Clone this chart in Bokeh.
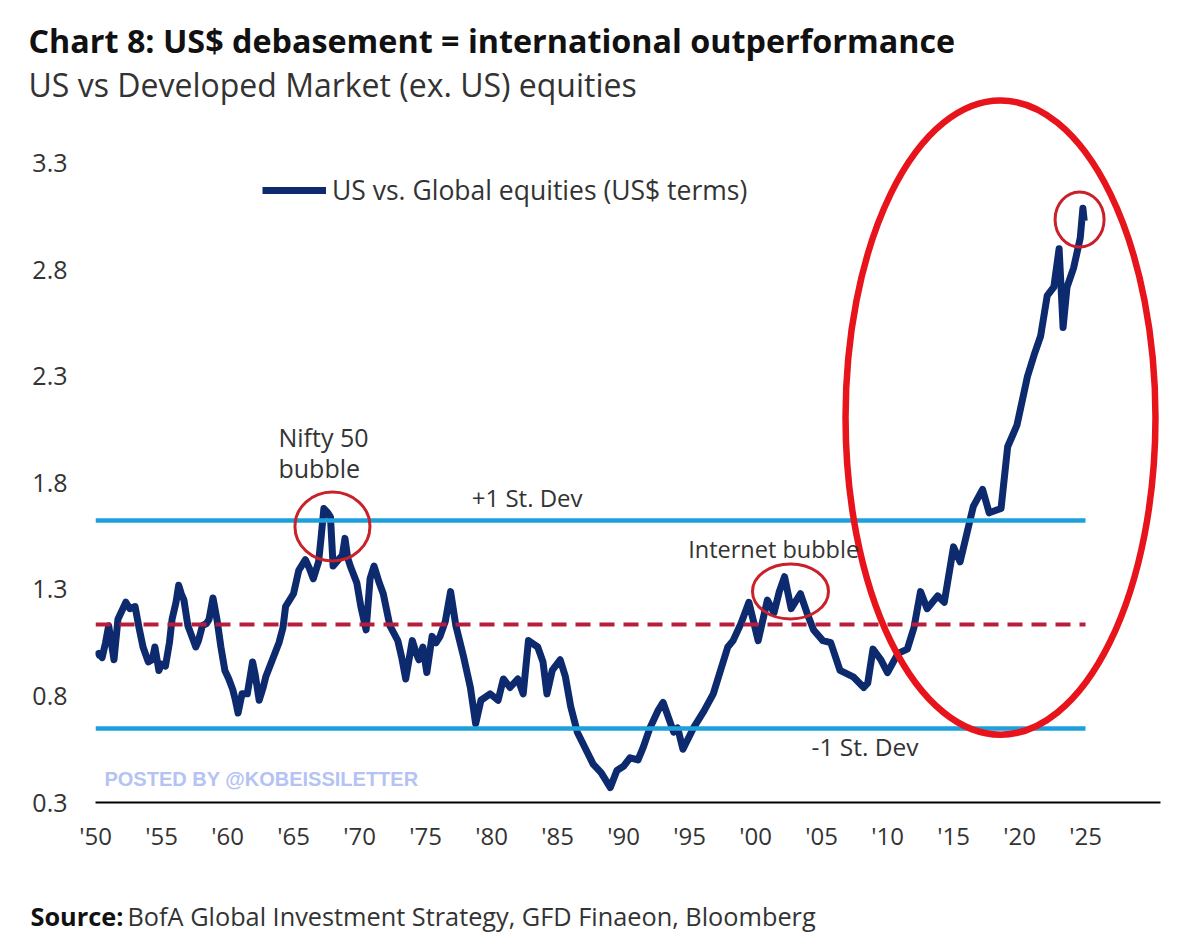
from bokeh.plotting import figure
from bokeh.models import Range1d, FixedTicker, Label, Legend, LegendItem, Title
from bokeh.embed import file_html
from bokeh.resources import INLINE

# ---------------- data ----------------
years = [
    1950.0, 1950.25, 1950.5, 1950.76, 1951.0, 1951.2, 1951.4, 1951.7, 1952.0, 1952.3,
    1952.6, 1953.0, 1953.3, 1953.6, 1954.0, 1954.3, 1954.5, 1954.8, 1955.0, 1955.3,
    1955.6, 1955.8, 1956.1, 1956.3, 1956.5, 1956.7, 1957.0, 1957.3, 1957.6, 1957.8,
    1958.1, 1958.4, 1958.6, 1958.9, 1959.2, 1959.5, 1959.8, 1960.1, 1960.4, 1960.6,
    1960.8, 1961.1, 1961.5, 1961.9, 1962.1, 1962.4, 1962.7, 1962.9, 1963.4, 1963.9,
    1964.2, 1964.4, 1965.0, 1965.4, 1965.9, 1966.2, 1966.5, 1966.9, 1967.1, 1967.3,
    1967.6, 1967.8, 1968.0, 1968.4, 1968.7, 1968.9, 1969.1, 1969.3, 1969.8, 1970.1,
    1970.5, 1970.8, 1971.1, 1971.5, 1971.8, 1972.3, 1972.9, 1973.2, 1973.5, 1974.0,
    1974.3, 1974.5, 1974.8, 1975.1, 1975.5, 1975.8, 1976.1, 1976.5, 1976.9, 1977.3,
    1977.9, 1978.4, 1978.8, 1979.2, 1979.9, 1980.5, 1980.9, 1981.4, 1982.0, 1982.4,
    1982.8, 1983.5, 1983.9, 1984.2, 1984.6, 1985.2, 1985.6, 1986.0, 1986.5, 1987.3,
    1987.7, 1988.3, 1988.7, 1989.0, 1989.5, 1990.0, 1990.5, 1991.1, 1991.5, 1992.0,
    1992.6, 1993.0, 1993.4, 1993.8, 1994.1, 1994.5, 1995.3, 1996.1, 1996.8, 1997.3,
    1997.9, 1998.3, 1998.9, 1999.5, 2000.2, 2000.9, 2001.4, 2001.8, 2002.2, 2002.7,
    2003.4, 2003.9, 2004.4, 2005.1, 2005.7, 2006.4, 2007.4, 2008.2, 2008.5, 2008.9,
    2009.5, 2010.0, 2010.8, 2011.5, 2012.0, 2012.5, 2013.0, 2013.8, 2014.3, 2015.0,
    2015.5, 2016.5, 2017.2, 2017.7, 2018.6, 2019.1, 2019.8, 2020.6, 2021.1, 2021.6,
    2022.1, 2022.6, 2023.0, 2023.3, 2023.6, 2024.1, 2024.6, 2024.8, 2024.9,
]
ratio = [
    0.99, 1.00, 0.98, 1.05, 1.13, 1.05, 0.97, 1.16, 1.20, 1.24,
    1.21, 1.22, 1.12, 1.03, 0.96, 0.97, 1.03, 0.92, 0.95, 0.94,
    1.05, 1.16, 1.24, 1.32, 1.28, 1.25, 1.13, 1.08, 1.03, 1.06,
    1.13, 1.14, 1.16, 1.26, 1.16, 1.03, 0.92, 0.88, 0.83, 0.78,
    0.72, 0.81, 0.81, 0.96, 0.90, 0.78, 0.84, 0.89, 0.97, 1.05,
    1.12, 1.22, 1.28, 1.39, 1.44, 1.40, 1.35, 1.43, 1.55, 1.68,
    1.66, 1.64, 1.41, 1.44, 1.46, 1.54, 1.45, 1.41, 1.33, 1.22,
    1.11, 1.35, 1.41, 1.33, 1.28, 1.13, 1.06, 0.98, 0.88, 1.06,
    1.00, 0.97, 1.03, 0.91, 1.08, 1.05, 1.08, 1.15, 1.29, 1.13,
    0.98, 0.84, 0.67, 0.78, 0.81, 0.78, 0.88, 0.84, 0.88, 0.81,
    1.06, 1.03, 0.96, 0.81, 0.92, 0.97, 0.89, 0.75, 0.63, 0.53,
    0.48, 0.44, 0.40, 0.37, 0.45, 0.47, 0.51, 0.50, 0.56, 0.65,
    0.73, 0.77, 0.70, 0.63, 0.65, 0.55, 0.65, 0.73, 0.81, 0.91,
    1.03, 1.06, 1.14, 1.24, 1.06, 1.25, 1.19, 1.29, 1.36, 1.21,
    1.28, 1.19, 1.11, 1.06, 1.05, 0.92, 0.89, 0.84, 0.86, 1.02,
    0.97, 0.91, 1.00, 1.02, 1.12, 1.29, 1.21, 1.27, 1.24, 1.50,
    1.43, 1.69, 1.77, 1.66, 1.68, 1.97, 2.07, 2.30, 2.40, 2.49,
    2.68, 2.72, 2.90, 2.53, 2.72, 2.81, 2.95, 3.09, 3.03,
]

band_years = [1950, 2025]
mean_level = [1.136, 1.136]
plus_one_sd = [1.624, 1.624]
minus_one_sd = [0.647, 0.647]

x_ticks = [1950, 1955, 1960, 1965, 1970, 1975, 1980, 1985, 1990, 1995, 2000, 2005, 2010, 2015, 2020, 2025]
x_tick_labels = ["'50", "'55", "'60", "'65", "'70", "'75", "'80", "'85", "'90", "'95",
                 "'00", "'05", "'10", "'15", "'20", "'25"]
y_ticks = [0.3, 0.8, 1.3, 1.8, 2.3, 2.8, 3.3]

# highlighted episodes (annotation circles)
bubble_years = [1967.95, 2002.65, 2024.55]
bubble_values = [1.596, 1.291, 3.037]
focus_year = [2018.56]
focus_value = [2.107]
focus_span_years = [23.48]
focus_span_values = [2.977]

# ---------------- styling ----------------
NAVY = "#0c2a6d"
LIGHT_BLUE = "#1ea0dc"
DASH_RED = "#b81e3c"
CIRCLE_RED = "#c9202a"
BIG_RED = "#e8141c"
TEXT = "#333333"
FONT = "Open Sans"

p = figure(width=1184, height=940,
           x_range=Range1d(1950, 2030.68), y_range=Range1d(0.3, 3.619),
           output_backend="svg", toolbar_location=None,
           min_border_left=95, min_border_right=24, min_border_top=95, min_border_bottom=138)

p.background_fill_color = "white"
p.border_fill_color = "white"
p.outline_line_color = None
p.xgrid.grid_line_color = None
p.ygrid.grid_line_color = None

# axes
p.xaxis.ticker = FixedTicker(ticks=x_ticks)
p.xaxis.major_label_overrides = dict(zip(x_ticks, x_tick_labels))
p.xaxis.axis_line_color = "black"
p.xaxis.axis_line_width = 2
p.xaxis.major_tick_line_color = None
p.xaxis.minor_tick_line_color = None
p.xaxis.major_label_standoff = 10
p.xaxis.major_label_text_font = FONT
p.xaxis.major_label_text_font_size = "24px"
p.xaxis.major_label_text_color = TEXT

p.yaxis.ticker = FixedTicker(ticks=y_ticks)
p.yaxis.axis_line_color = None
p.yaxis.major_tick_line_color = None
p.yaxis.minor_tick_line_color = None
p.yaxis.major_label_standoff = 22
p.yaxis.major_label_text_font = FONT
p.yaxis.major_label_text_font_size = "25px"
p.yaxis.major_label_text_color = TEXT

# series
series = p.line(years, ratio, line_color=NAVY, line_width=7, line_join="round")

# bands
p.line(band_years, plus_one_sd, line_color=LIGHT_BLUE, line_width=4.5)
p.line(band_years, minus_one_sd, line_color=LIGHT_BLUE, line_width=4.5)
p.line(band_years, mean_level, line_color=DASH_RED, line_width=4, line_dash="15 9")

# annotation circles
p.ellipse(x=bubble_years, y=bubble_values, width=[75, 76, 49], height=[69, 55, 55],
          width_units="screen", height_units="screen",
          fill_color=None, line_color=CIRCLE_RED, line_width=3)
p.ellipse(x=focus_year, y=focus_value, width=focus_span_years, height=focus_span_values,
          fill_color=None, line_color=BIG_RED, line_width=6.5)

# legend
legend = Legend(items=[LegendItem(label="US vs. Global equities (US$ terms)", renderers=[series])],
                location=(167, 594), glyph_width=64, glyph_height=20, label_standoff=6,
                padding=0, margin=0, spacing=0, border_line_color=None,
                background_fill_alpha=0, label_text_font=FONT,
                label_text_font_size="26.5px", label_text_color=TEXT)
p.add_layout(legend)

# titles (side panel, left-shifted to the page edge)
p.add_layout(Title(text="US vs Developed Market (ex. US) equities", align="left", offset=-67,
                   text_font=FONT, text_font_size="32px", text_font_style="normal",
                   text_color=TEXT, standoff=-20, vertical_align="bottom"), "above")
p.add_layout(Title(text="Chart 8: US$ debasement = international outperformance", align="left",
                   offset=-67, text_font=FONT, text_font_size="32.3px", text_font_style="bold",
                   text_color="#111111", standoff=18, vertical_align="bottom"), "above")

# source line below the axis: spacer, bold "Source:" and the regular remainder on one line
p.add_layout(Title(text="\u00a0", text_font=FONT, text_font_size="24px", standoff=24), "below")
p.add_layout(Title(text="Source:", align="left", offset=-65, text_font=FONT,
                   text_font_size="25.3px", text_font_style="bold", text_color="#111111",
                   standoff=-34, vertical_align="bottom"), "below")
p.add_layout(Title(text="BofA Global Investment Strategy, GFD Finaeon,  Bloomberg", align="left",
                   offset=32, text_font=FONT, text_font_size="25.3px", text_font_style="normal",
                   text_color=TEXT, standoff=-34, vertical_align="top"), "below")


def lab(x, y, text, size, bold=False, color=TEXT, align="left", font=FONT, x_offset=0, y_offset=0):
    p.add_layout(Label(x=x, y=y, text=text, text_font=font, text_font_size=f"{size}px",
                       text_font_style="bold" if bold else "normal", text_color=color,
                       text_align=align, text_baseline="alphabetic",
                       x_offset=x_offset, y_offset=y_offset))


lab(1982.7, plus_one_sd[0], "+1 St. Dev", 24, align="center", y_offset=23)
lab(2008.3, minus_one_sd[0], "-1 St. Dev", 24.5, align="center", y_offset=-18)
lab(1994.9, 1.446, "Internet bubble", 23.5, y_offset=9)
lab(1963.86, 1.967, "Nifty 50", 25, y_offset=10)
lab(1963.86, 1.812, "bubble", 25, y_offset=12)
lab(1950.68, 0.375, "POSTED BY @KOBEISSILETTER", 20, bold=True, color="#b4c3f3",
    font="Liberation Sans", y_offset=8)

open("out.html", "w").write(file_html(p, INLINE))
